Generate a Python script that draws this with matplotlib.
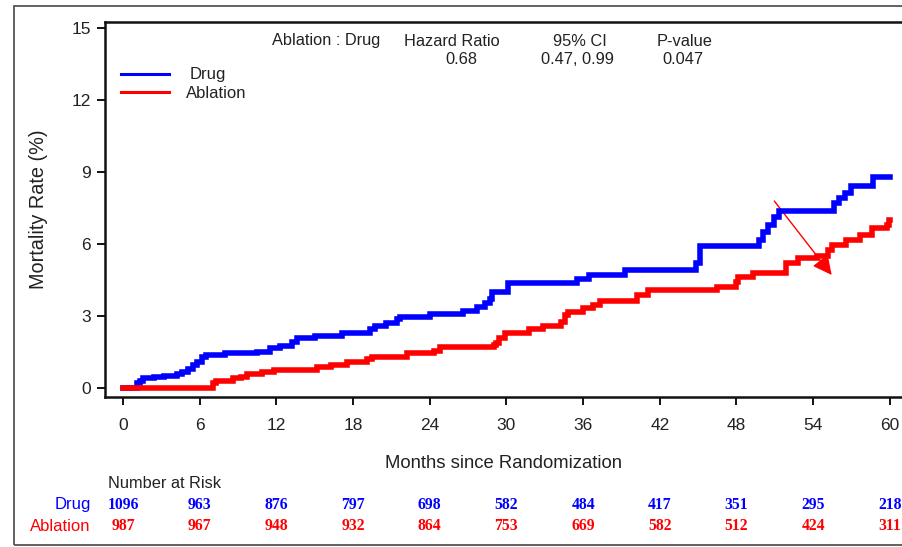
import matplotlib
matplotlib.use("Agg")
import matplotlib.pyplot as plt
import matplotlib.transforms as mtransforms
from matplotlib.patches import Rectangle, FancyArrowPatch

# Cumulative mortality (%) step data: event month and level reached there
drug_months = [0, 1.07, 1.33, 1.6, 2.4, 3.2, 4.2, 4.6, 5.1, 5.5, 5.8, 6.2, 6.5, 8.0,
               10.5, 11.5, 12.3, 13.2, 13.6, 15.0, 17.1, 19.3, 19.7, 20.6, 21.4, 21.7,
               24.0, 26.6, 27.7, 28.3, 28.7, 28.85, 30.15, 35.5, 36.5, 39.3, 44.8,
               45.15, 49.8, 50.1, 50.5, 50.9, 51.3, 55.6, 56.0, 56.5, 57.0, 58.7, 60.0]
drug_rate = [0, 0.2, 0.3, 0.4, 0.45, 0.5, 0.6, 0.67, 0.8, 0.96, 1.1, 1.3, 1.37, 1.45,
             1.5, 1.65, 1.76, 1.93, 2.08, 2.17, 2.28, 2.44, 2.58, 2.69, 2.86, 2.97,
             3.08, 3.22, 3.39, 3.53, 3.7, 4.0, 4.36, 4.53, 4.71, 4.92, 5.2,
             5.92, 6.17, 6.51, 6.79, 7.14, 7.39, 7.7, 7.9, 8.11, 8.42, 8.8, 8.8]

ablation_months = [0, 7.07, 7.3, 8.6, 9.2, 9.7, 10.85, 11.8, 15.2, 16.3, 17.5, 19.1,
                   19.5, 22.2, 24.3, 24.8, 29.0, 29.2, 29.4, 29.9, 31.8, 32.9, 34.3,
                   34.6, 34.85, 36.0, 36.8, 37.3, 40.2, 41.1, 46.5, 48.0, 48.15, 49.3,
                   51.9, 52.8, 54.3, 55.2, 55.45, 56.6, 57.7, 58.6, 59.75, 59.9, 60.0]
ablation_rate = [0, 0.2, 0.3, 0.4, 0.47, 0.58, 0.68, 0.76, 0.86, 0.94, 1.1, 1.2,
                 1.3, 1.44, 1.55, 1.7, 1.79, 1.86, 2.07, 2.3, 2.44, 2.58, 2.76,
                 3.04, 3.18, 3.32, 3.46, 3.64, 3.88, 4.08, 4.22, 4.43, 4.64, 4.78,
                 5.2, 5.4, 5.5, 5.75, 5.96, 6.17, 6.38, 6.65, 6.79, 7.0, 7.0]

risk_months = [0, 6, 12, 18, 24, 30, 36, 42, 48, 54, 60]
drug_at_risk = [1096, 963, 876, 797, 698, 582, 484, 417, 351, 295, 218]
ablation_at_risk = [987, 967, 948, 932, 864, 753, 669, 582, 512, 424, 311]

y_ticks = [0, 3, 6, 9, 12, 15]

header_titles = ["Hazard Ratio", "95% CI", "P-value"]
header_values = ["0.68", "0.47, 0.99", "0.047"]

arrow_start = (50.96, 7.79)
arrow_end = (55.45, 4.71)

BLUE = "#0000FF"
RED = "#FF0000"
INK = "#222222"
SANS = ["Liberation Sans", "DejaVu Sans"]
SERIF = ["Liberation Serif", "DejaVu Serif"]

plt.rcParams["font.family"] = SANS

W, H = 903, 547
fig = plt.figure(figsize=(W / 100, H / 100), dpi=100)


def fx(px):
    return px / W


def fy(py):
    return 1 - py / H


# outer frame
fig.patches.append(Rectangle((fx(14), fy(545)), fx(1000) - fx(14), fy(6) - fy(545),
                             transform=fig.transFigure, fill=False,
                             edgecolor="#555555", linewidth=1.3))

ax = fig.add_axes([fx(105), fy(397), fx(903) - fx(105), fy(22) - fy(397)])
ax.set_xlim(-1.41, 61.03)
ax.set_ylim(-0.375, 15.25)

ax.step(drug_months, drug_rate, where="post", color=BLUE, linewidth=4.0,
        solid_joinstyle="miter", label="Drug")
ax.step(ablation_months, ablation_rate, where="post", color=RED, linewidth=4.0,
        solid_joinstyle="miter", label="Ablation")

ax.spines["right"].set_visible(False)
for side in ("left", "bottom", "top"):
    ax.spines[side].set_linewidth(1.8)
    ax.spines[side].set_color("#111111")

ax.set_xticks(risk_months)
ax.set_yticks(y_ticks)
ax.tick_params(axis="both", direction="out", length=6, width=1.4, color="#111111",
               labelsize=12.5, labelcolor=INK)
ax.tick_params(axis="x", pad=9)
ax.tick_params(axis="y", pad=4)

ax.set_xlabel("Months since Randomization", fontsize=13.3, color=INK, labelpad=16)
ax.set_ylabel("Mortality Rate (%)", fontsize=14.3, color=INK, labelpad=17)

# legend drawn by hand
ax.plot([fx(121), fx(169)], [fy(74), fy(74)], transform=fig.transFigure,
        color=BLUE, linewidth=2.2, clip_on=False)
ax.plot([fx(121), fx(169)], [fy(92.5), fy(92.5)], transform=fig.transFigure,
        color=RED, linewidth=2.2, clip_on=False)
fig.text(fx(190), fy(74), "Drug", fontsize=12, color=INK, va="center", ha="left")
fig.text(fx(186), fy(93), "Ablation", fontsize=12, color=INK, va="center", ha="left")

# hazard ratio header
fig.text(fx(272), fy(41), "Ablation : Drug", fontsize=11.8, color=INK,
         va="center", ha="left")
title_x = [452, 580, 685]
value_x = [461, 577, 683]
for t, tx in zip(header_titles, title_x):
    fig.text(fx(tx), fy(41), t, fontsize=11.8, color=INK, va="center", ha="center")
for v, vx in zip(header_values, value_x):
    fig.text(fx(vx), fy(59.5), v, fontsize=11.8, color=INK, va="center", ha="center")

# arrow
arrow = FancyArrowPatch(arrow_start, arrow_end,
                        arrowstyle="-|>,head_length=0.9,head_width=0.45",
                        mutation_scale=13, color=RED, linewidth=1.0,
                        shrinkA=0, shrinkB=0)
ax.add_patch(arrow)

# number at risk table
blend = mtransforms.blended_transform_factory(ax.transData, fig.transFigure)
fig.text(fx(108), fy(483), "Number at Risk", fontsize=11.8, color=INK,
         va="center", ha="left")
fig.text(fx(91), fy(505), "Drug", fontsize=12, color=BLUE, va="center", ha="right")
fig.text(fx(90), fy(526.5), "Ablation", fontsize=12, color=RED, va="center", ha="right")
for m, nd, na in zip(risk_months, drug_at_risk, ablation_at_risk):
    ax.text(m, fy(505), str(nd), transform=blend, family=SERIF, fontweight="bold",
            fontsize=11.3, color=BLUE, ha="center", va="center", clip_on=False)
    ax.text(m, fy(526.5), str(na), transform=blend, family=SERIF, fontweight="bold",
            fontsize=11.3, color=RED, ha="center", va="center", clip_on=False)

fig.savefig("out.png", dpi=100)
